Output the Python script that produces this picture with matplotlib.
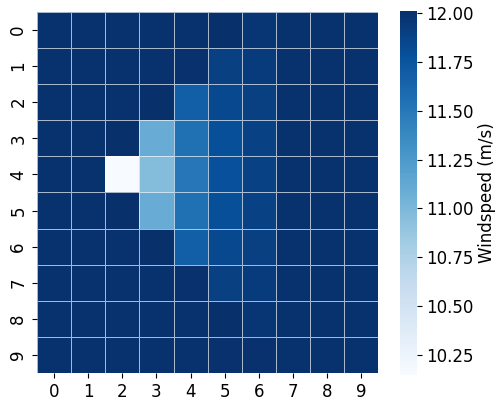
import matplotlib
matplotlib.use('Agg')
import matplotlib.pyplot as plt
import seaborn as sns
import numpy as np

# Windspeed grid (m/s), rows 0-9, columns 0-9
row0 = [11.99, 11.99, 11.99, 11.99, 11.99, 12.01, 11.96, 11.99, 11.99, 11.99]
row1 = [11.99, 11.99, 11.99, 11.99, 12.00, 11.90, 11.93, 11.99, 11.99, 11.99]
row2 = [11.99, 11.99, 11.99, 12.01, 11.67, 11.84, 11.90, 11.99, 11.99, 11.99]
row3 = [11.99, 11.99, 12.01, 11.10, 11.55, 11.79, 11.88, 11.99, 11.99, 11.99]
row4 = [11.99, 11.99, 10.15, 10.97, 11.50, 11.78, 11.88, 11.99, 11.99, 11.99]
row5 = [11.99, 11.99, 12.01, 11.10, 11.55, 11.79, 11.88, 11.99, 11.99, 11.99]
row6 = [11.99, 11.99, 11.99, 12.01, 11.67, 11.84, 11.90, 11.99, 11.99, 11.99]
row7 = [11.99, 11.99, 11.99, 11.99, 12.00, 11.90, 11.93, 11.99, 11.99, 11.99]
row8 = [11.99, 11.99, 11.99, 11.99, 11.99, 12.01, 11.96, 11.99, 11.99, 11.99]
row9 = [11.99, 11.99, 11.99, 11.99, 11.99, 12.00, 12.00, 11.99, 11.99, 11.99]

grid = np.array([row0, row1, row2, row3, row4, row5, row6, row7, row8, row9])
cbar_ticks = [10.25, 10.5, 10.75, 11.0, 11.25, 11.5, 11.75, 12.0]

fig = plt.figure(figsize=(5.01, 4.03), dpi=100)
ax = fig.add_axes([0.074, 0.074, 0.681, 0.897])
cax = fig.add_axes([0.798, 0.07, 0.034, 0.903])

sns.heatmap(grid, ax=ax, cbar_ax=cax, cmap='Blues', linewidths=0.5,
            linecolor=(1, 1, 1, 0.65), square=False,
            cbar_kws={'label': 'Windspeed (m/s)'})

ax.tick_params(labelsize=12)
cax.tick_params(labelsize=12)
cax.set_yticks(cbar_ticks)
cax.set_ylabel('Windspeed (m/s)', fontsize=12, labelpad=3)

fig.savefig('out.png', dpi=100)
plt.close(fig)
